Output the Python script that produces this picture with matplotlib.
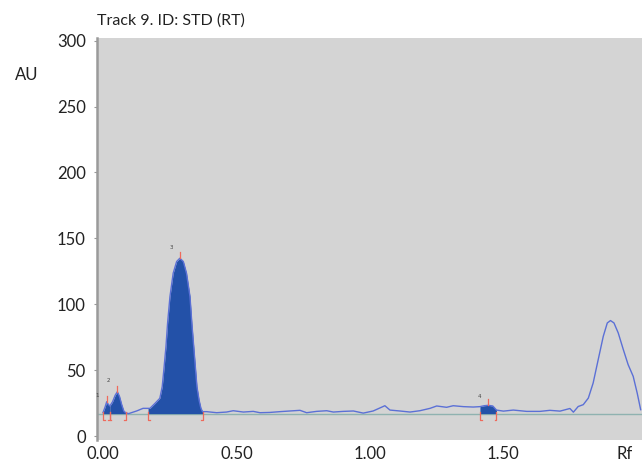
import matplotlib.pyplot as plt

# Densitogram trace (Rf, AU)
rf = [0.000, 0.008, 0.014, 0.020, 0.026, 0.036, 0.046, 0.054, 0.062, 0.070, 0.078, 0.085,
      0.096, 0.126, 0.150, 0.169, 0.176, 0.195, 0.213, 0.222, 0.228, 0.236, 0.242, 0.251,
      0.263, 0.276, 0.288, 0.301, 0.313, 0.326, 0.333, 0.340, 0.347, 0.352, 0.360, 0.367,
      0.373, 0.388, 0.426, 0.463, 0.488, 0.526, 0.563, 0.588, 0.625, 0.663, 0.700, 0.738,
      0.763, 0.800, 0.838, 0.863, 0.900, 0.938, 0.975, 1.012, 1.056, 1.075, 1.112, 1.150,
      1.187, 1.225, 1.250, 1.287, 1.312, 1.350, 1.387, 1.412, 1.428, 1.443, 1.460, 1.474,
      1.500, 1.537, 1.587, 1.637, 1.674, 1.712, 1.749, 1.762, 1.780, 1.799, 1.818, 1.836,
      1.855, 1.874, 1.889, 1.901, 1.914, 1.930, 1.949, 1.967, 1.986, 2.001, 2.014]
au = [17.7, 22.0, 26.0, 24.0, 22.8, 26.0, 31.0, 33.6, 30.0, 24.0, 19.0, 17.7,
      17.0, 19.0, 21.0, 21.0, 21.0, 24.8, 28.6, 37.5, 50.1, 67.8, 85.5, 105.8,
      123.5, 132.4, 134.9, 132.4, 123.5, 105.8, 85.5, 67.8, 50.1, 37.5, 27.3, 21.0,
      18.5, 18.5, 17.7, 18.2, 19.2, 18.2, 18.7, 17.7, 17.9, 18.5, 19.0, 19.5,
      17.7, 18.7, 19.2, 18.2, 18.7, 19.0, 17.4, 19.0, 23.0, 19.7, 19.0, 18.2,
      19.2, 21.0, 22.8, 21.8, 23.0, 22.3, 22.0, 22.3, 23.0, 23.3, 22.8, 19.7,
      18.9, 19.7, 18.7, 18.7, 19.5, 18.9, 20.9, 18.1, 22.4, 23.8, 28.8, 40.2,
      58.0, 75.7, 85.8, 87.6, 85.8, 78.2, 65.6, 54.2, 45.3, 32.6, 20.0]

baseline = 17.0

# integrated peaks: (label, start, apex, end)
peak_ids = ["1", "2", "3", "4"]
peak_start = [0.000, 0.026, 0.169, 1.412]
peak_apex = [0.014, 0.054, 0.288, 1.443]
peak_end = [0.026, 0.085, 0.373, 1.474]
peak_label_pos = [(-0.022, 31), (0.019, 42), (0.255, 143), (1.41, 30)]

fig = plt.figure(figsize=(6.42, 4.63), dpi=100)
ax = fig.add_axes([0.151, 0.0497, 0.849, 0.8683])
ax.set_facecolor("#d4d4d4")

ax.axhline(baseline, color="#8fb2b0", linewidth=1.0, zorder=1)

for s, e in zip(peak_start, peak_end):
    xs = [x for x in rf if s <= x <= e]
    ys = [y for x, y in zip(rf, au) if s <= x <= e]
    ax.fill_between(xs, ys, baseline, color="#2351a8", linewidth=0, zorder=2)

ax.plot(rf, au, color="#5b70d6", linewidth=1.0, zorder=3)

red = "#ee6a5c"
for s, a, e in zip(peak_start, peak_apex, peak_end):
    # apex tick
    top = au[rf.index(a)]
    ax.plot([a, a], [top, top + 4.5], color=red, linewidth=0.9, zorder=4)
    # start / end brackets
    ax.plot([s + 0.006, s, s], [12.5, 12.5, baseline + 1], color=red, linewidth=0.9, zorder=4)
    ax.plot([e - 0.006, e, e], [12.5, 12.5, baseline + 1], color=red, linewidth=0.9, zorder=4)

for lab, (lx, ly) in zip(peak_ids, peak_label_pos):
    ax.text(lx, ly, lab, fontsize=4, color="#444444", ha="center", va="center")

ax.set_xlim(-0.0225, 2.019)
ax.set_ylim(-3, 302)

ax.set_yticks([0, 50, 100, 150, 200, 250, 300])
ax.set_xticks([0, 0.5, 1.0, 1.5, 1.955])
ax.set_xticklabels(["0.00", "0.50", "1.00", "1.50", "Rf"])

for sp in ["top", "right", "bottom"]:
    ax.spines[sp].set_visible(False)
ax.spines["left"].set_color("#9a9a9a")
ax.spines["left"].set_linewidth(1.8)

ax.tick_params(axis="y", length=2, width=0.8, color="#999999", pad=6,
               labelsize=12, labelcolor="#222222")
ax.tick_params(axis="x", length=0, pad=4, labelsize=12, labelcolor="#222222")
for lbl in ax.get_xticklabels() + ax.get_yticklabels():
    lbl.set_family("Lato")

fig.text(0.151, 0.955, "Track 9. ID: STD (RT)", fontsize=11.5, family="Lato",
         color="#222222", ha="left", va="center")
fig.text(0.023, 0.838, "AU", fontsize=12, family="Lato", color="#222222",
         ha="left", va="center")

plt.savefig("out.png", dpi=100)
